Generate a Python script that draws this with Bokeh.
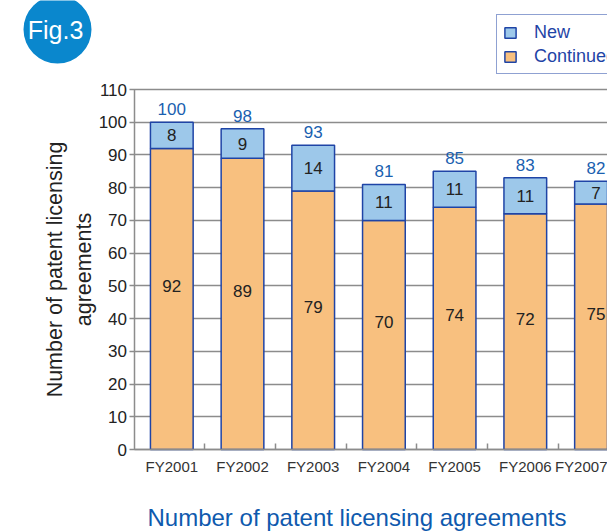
from bokeh.plotting import figure
from bokeh.models import (ColumnDataSource, Range1d, FixedTicker, Legend, LegendItem, Label)
from bokeh.core.properties import value
from bokeh.embed import file_html
from bokeh.resources import INLINE

# ---- data ----
years = ["FY2001", "FY2002", "FY2003", "FY2004", "FY2005", "FY2006", "FY2007"]
new = [8, 9, 14, 11, 11, 11, 7]
continued = [92, 89, 79, 70, 74, 72, 75]
totals = [100, 98, 93, 81, 85, 83, 82]
y_ticks = [0, 10, 20, 30, 40, 50, 60, 70, 80, 90, 100, 110]

FONT = "Liberation Sans"
BLUE_FILL = "#9dc8ea"
ORANGE_FILL = "#f8c07f"
OUTLINE = "#1f44a6"
GRID = "#8c8c8c"
LABEL_BLUE = "#1a5fb0"

# ---- layout geometry (canvas pixels) ----
W, H = 607, 531
FRAME_LEFT, FRAME_TOP, FRAME_BOTTOM = 133.5, 89.0, 449.0
CAT_PX = 70.7          # pixels per category
FIRST_BAR_PX = 171.3   # pixel centre of the first bar
Y_MAX = 110
Y_PX = (FRAME_BOTTOM - FRAME_TOP) / Y_MAX

def px_x(px):
    return (px - FIRST_BAR_PX) / CAT_PX

def px_y(py):
    return (FRAME_BOTTOM - py) / Y_PX

idx = list(range(len(years)))
src = ColumnDataSource(dict(
    x=idx,
    continued=continued,
    new=new,
    totals=totals,
    cont_mid=[c / 2 for c in continued],
    new_mid=[c + n / 2 for c, n in zip(continued, new)],
    cont_txt=[str(v) for v in continued],
    new_txt=[str(v) for v in new],
    tot_txt=[str(v) for v in totals],
))

axis_x = px_x(FRAME_LEFT)
x_end = px_x(W)
p = figure(width=W, height=H, x_range=Range1d(px_x(0), x_end), y_range=Range1d(px_y(H), px_y(0)),
           toolbar_location=None, output_backend="svg", min_border=0,
           outline_line_color=None, title=None)
p.xgrid.visible = False
p.ygrid.visible = False

r_cont, r_new = p.vbar_stack(["continued", "new"], x="x", width=0.604, source=src,
                             fill_color=[ORANGE_FILL, BLUE_FILL], line_color=OUTLINE,
                             line_width=1.5)

common = dict(text_font=value(FONT), text_font_size="17px", text_align="center")
p.text(x="x", y="cont_mid", text="cont_txt", source=src, text_color="#222222",
       text_baseline="middle", y_offset=-13, **common)
p.text(x="x", y="new_mid", text="new_txt", source=src, text_color="#222222",
       text_baseline="middle", **common)
p.text(x="x", y="totals", text="tot_txt", source=src, text_color=LABEL_BLUE,
       text_baseline="bottom", y_offset=-7, **common)

# ---- x axis (fixed at y=0) ----
xa = p.xaxis[0]
xa.fixed_location = 0
xa.bounds = (axis_x, x_end)
xa.ticker = FixedTicker(ticks=idx, minor_ticks=[i + 0.467 for i in idx[:-1]])
xa.major_label_overrides = {i: y for i, y in zip(idx, years)}
xa.major_tick_in = 0
xa.major_tick_out = 0
xa.minor_tick_in = 6
xa.minor_tick_out = 0
xa.minor_tick_line_color = GRID
xa.minor_tick_line_width = 1.5
xa.axis_line_color = GRID
xa.axis_line_width = 1.5
xa.major_label_text_font = FONT
xa.major_label_text_font_size = "15px"
xa.major_label_text_color = "#333333"
xa.major_label_standoff = 8

# ---- y axis (fixed at the left edge of the plot area); long inner ticks act as grid ----
ya = p.yaxis[0]
ya.fixed_location = axis_x
ya.bounds = (0, Y_MAX)
ya.level = "underlay"
ya.ticker = FixedTicker(ticks=y_ticks)
ya.major_tick_in = int(W - FRAME_LEFT)
ya.major_tick_out = 5
ya.minor_tick_line_color = None
ya.major_tick_line_color = GRID
ya.major_tick_line_width = 1.5
ya.axis_line_color = GRID
ya.axis_line_width = 1.5
ya.major_label_text_font = FONT
ya.major_label_text_font_size = "17px"
ya.major_label_text_color = "#222222"
ya.major_label_standoff = 2
ya.axis_label = "Number of patent licensing\nagreements"
ya.axis_label_text_font = FONT
ya.axis_label_text_font_size = "21.5px"
ya.axis_label_text_font_style = "normal"
ya.axis_label_text_color = "#222222"
ya.axis_label_standoff = 0

# ---- bottom title ----
p.add_layout(Label(x=147, y=H - 517, x_units="screen", y_units="screen",
                   text="Number of patent licensing agreements", text_align="left",
                   text_baseline="middle", text_font=FONT, text_font_size="24px",
                   text_color="#0f5aae"))

# ---- Fig.3 badge ----
p.scatter(x=[px_x(57)], y=[px_y(29)], size=68, marker="circle",
          fill_color="#0a87cd", line_color=None)
p.add_layout(Label(x=55, y=H - 29, x_units="screen", y_units="screen", text="Fig.3",
                   text_align="center", text_baseline="middle", text_font=FONT,
                   text_font_size="25px", text_color="white"))

# ---- legend ----
legend = Legend(items=[LegendItem(label="New", renderers=[r_new]),
                       LegendItem(label="Continued", renderers=[r_cont])],
                location=(496, H - 74), padding=6, spacing=2, label_height=22,
                glyph_width=14, glyph_height=13, label_standoff=17,
                label_text_font=FONT, label_text_font_size="18px", label_text_color=OUTLINE,
                border_line_color=OUTLINE, border_line_width=1.5, background_fill_alpha=1.0,
                margin=0)
p.add_layout(legend)

open("out.html", "w").write(file_html(p, INLINE))
